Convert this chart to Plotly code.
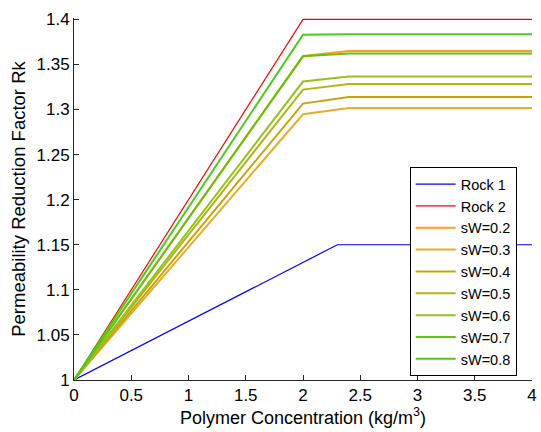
import plotly.graph_objects as go

# Polymer concentration breakpoints (kg/m^3)
conc_rock = [0, 2, 4]
conc_rock1 = [0, 2.3, 4]
conc_sw = [0, 2, 2.4, 4]

# Permeability reduction factor curves
rk_rock1 = [1, 1.15, 1.15]
rk_rock2 = [1, 1.4, 1.4]

sw_labels = ["sW=0.2", "sW=0.3", "sW=0.4", "sW=0.5", "sW=0.6", "sW=0.7", "sW=0.8"]
sw_rk_at2 = [1.3593, 1.2947, 1.3066, 1.3221, 1.3310, 1.3590, 1.3830]
sw_rk_plateau = [1.3649, 1.3017, 1.3139, 1.3283, 1.3365, 1.3620, 1.3836]
sw_colors = ["#FF9F1A", "#E8AC2A", "#C8A40A", "#AFB512", "#94C21E", "#62C40A", "#4CCB1C"]

fig = go.Figure()
fig.add_trace(go.Scatter(x=conc_rock1, y=rk_rock1, mode="lines", name="Rock 1",
                         line=dict(color="#0000FF", width=1.2)))
fig.add_trace(go.Scatter(x=conc_rock, y=rk_rock2, mode="lines", name="Rock 2",
                         line=dict(color="#FF0000", width=1.2)))
for lab, v2, vp, col in zip(sw_labels, sw_rk_at2, sw_rk_plateau, sw_colors):
    fig.add_trace(go.Scatter(x=conc_sw, y=[1, v2, vp, vp], mode="lines", name=lab,
                             line=dict(color=col, width=2)))

font = "Liberation Sans, Arial, Helvetica, sans-serif"
# a little headroom above 1.4 so the Rock 2 plateau is not clipped
y_top = 1.4015
fig.update_layout(
    width=541, height=432,
    margin=dict(l=74, r=4, t=17.6, b=52),
    paper_bgcolor="white", plot_bgcolor="white",
    font=dict(family=font, size=17, color="#000000"),
    showlegend=True,
    legend=dict(x=0.733, y=0.588, xanchor="left", yanchor="top",
                bgcolor="white", bordercolor="#000000", borderwidth=1,
                font=dict(size=14.5), itemwidth=40, entrywidth=92,
                tracegroupgap=0),
    xaxis=dict(range=[0, 4], tickvals=[0, 0.5, 1, 1.5, 2, 2.5, 3, 3.5, 4],
               ticktext=["0", "0.5", "1", "1.5", "2", "2.5", "3", "3.5", "4"],
               ticks="inside", ticklen=5, tickcolor="#262626",
               tickfont=dict(size=17), ticklabeloverflow="allow",
               showline=True, linecolor="#262626", linewidth=1,
               showgrid=False, zeroline=False,
               title=dict(text="Polymer Concentration (kg/m<sup>3</sup>)",
                          font=dict(size=18), standoff=4)),
    yaxis=dict(range=[1, y_top], tickvals=[1, 1.05, 1.1, 1.15, 1.2, 1.25, 1.3, 1.35, 1.4],
               ticktext=["1", "1.05", "1.1", "1.15", "1.2", "1.25", "1.3", "1.35", "1.4"],
               ticks="inside", ticklen=5, tickcolor="#262626",
               tickfont=dict(size=17), ticklabeloverflow="allow",
               showline=True, linecolor="#262626", linewidth=1,
               showgrid=False, zeroline=False,
               title=dict(text="Permeability Reduction Factor Rk",
                          font=dict(size=18.5), standoff=6)),
)
fig.write_html("out.html")
